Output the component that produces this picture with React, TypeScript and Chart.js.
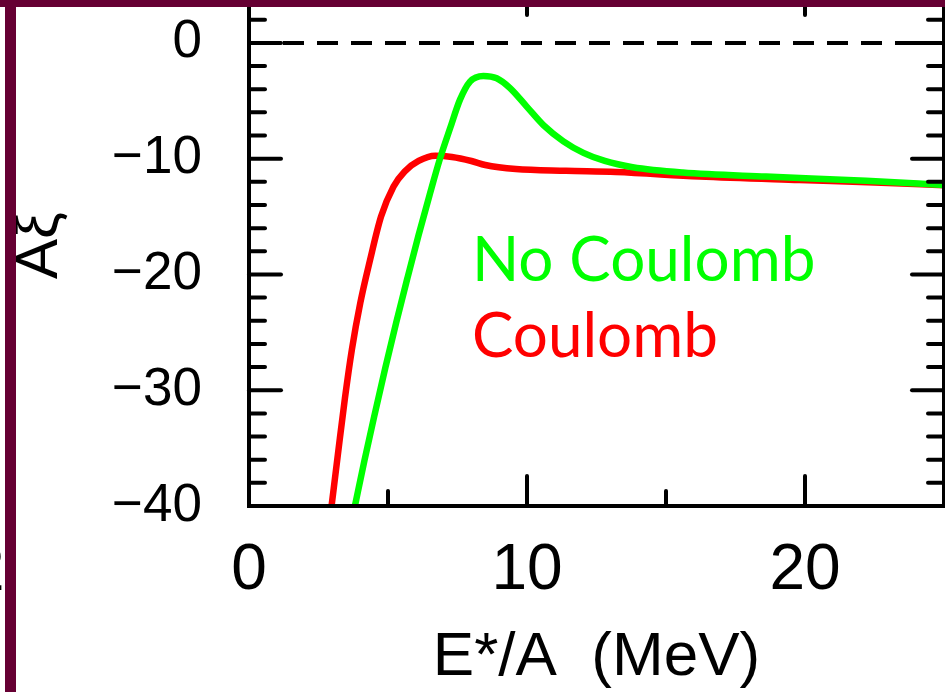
import React, { useEffect, useRef } from "react";
import { Chart, registerables } from "chart.js";

Chart.register(...registerables);

// ---- data ----
const NO_COULOMB_X = [3.81, 4.15, 4.5, 4.9, 5.3, 5.7, 6.1, 6.5, 6.87, 7.23, 7.59, 7.95, 8.43, 8.91, 9.39, 9.99, 10.59, 11.31, 12.03, 12.8, 13.8, 15.6, 18.6, 22.2, 25.0];
const NO_COULOMB_Y = [-40, -36.1, -32.3, -28.1, -24.1, -20.3, -16.6, -13.1, -10.0, -7.4, -4.9, -3.34, -2.85, -3.05, -3.9, -5.5, -7.1, -8.5, -9.5, -10.2, -10.74, -11.2, -11.55, -11.9, -12.27];

const COULOMB_X = [2.97, 3.2, 3.45, 3.7, 4.0, 4.35, 4.75, 5.2, 5.6, 6.1, 6.7, 7.3, 8.0, 8.5, 9.6, 11.4, 13.2, 16.2, 19.8, 22.5, 25.0];
const COULOMB_Y = [-40, -35.5, -30.7, -26.5, -22.5, -18.8, -15.0, -12.4, -11.1, -10.2, -9.75, -9.85, -10.2, -10.55, -10.9, -11.05, -11.15, -11.55, -11.85, -12.05, -12.3];

const ZERO_LINE_X = [0, 25];
const ZERO_LINE_Y = [0, 0];

const X_MAJOR_TICKS = [0, 10, 20];
const X_MINOR_TICKS = [5, 15];
const Y_MAJOR_TICKS = [-40, -30, -20, -10, 0];
const Y_MINOR_TICKS = [-38, -36, -34, -32, -28, -26, -24, -22, -18, -16, -14, -12, -8, -6, -4, -2, 2, 4];

const LEGEND_LABELS = ["No Coulomb", "Coulomb"];
const LEGEND_COLORS = ["#00ff00", "#ff0000"];
const LEGEND_X = 8.02;
const LEGEND_Y = [-20.56, -27.13];

const X_TITLE = "E*/A  (MeV)";
const Y_TITLE = "Aξ";

const toPts = (xs: number[], ys: number[]) => xs.map((x, i) => ({ x, y: ys[i] }));

const fmtTick = (v: number) => (v < 0 ? "\u2212" + Math.abs(v) : String(v));

const frameTicksPlugin = {
  id: "frameTicks",
  afterDatasetsDraw(chart: any) {
    const { ctx, chartArea } = chart;
    const xs = chart.scales.x;
    const ys = chart.scales.y;
    const { left, right, top, bottom } = chartArea;
    ctx.save();
    ctx.strokeStyle = "#000";
    ctx.lineWidth = 4;
    ctx.lineCap = "round";
    ctx.strokeRect(left, top, right - left, bottom - top);
    const line = (x1: number, y1: number, x2: number, y2: number) => {
      ctx.beginPath();
      ctx.moveTo(x1, y1);
      ctx.lineTo(x2, y2);
      ctx.stroke();
    };
    const xt = (vals: number[], len: number) =>
      vals.forEach((v) => {
        const p = xs.getPixelForValue(v);
        line(p, bottom, p, bottom - len);
        line(p, top, p, top + len);
      });
    const yt = (vals: number[], len: number) =>
      vals.forEach((v) => {
        const p = ys.getPixelForValue(v);
        line(left, p, left + len, p);
        line(right, p, right - len, p);
      });
    xt(X_MAJOR_TICKS, 30);
    xt(X_MINOR_TICKS, 15);
    yt(Y_MAJOR_TICKS, 32);
    yt(Y_MINOR_TICKS, 16);
    ctx.restore();
  },
};

const legendTextPlugin = {
  id: "legendText",
  afterDraw(chart: any) {
    const { ctx } = chart;
    const xs = chart.scales.x;
    const ys = chart.scales.y;
    ctx.save();
    ctx.font = "62px Lato, 'DejaVu Sans', sans-serif";
    ctx.textAlign = "left";
    ctx.textBaseline = "alphabetic";
    LEGEND_LABELS.forEach((t, i) => {
      ctx.fillStyle = LEGEND_COLORS[i];
      ctx.fillText(t, xs.getPixelForValue(LEGEND_X), ys.getPixelForValue(LEGEND_Y[i]));
    });
    ctx.restore();
  },
};

export default function App() {
  const ref = useRef<HTMLCanvasElement | null>(null);

  useEffect(() => {
    if (!ref.current) return;
    const chart = new Chart(ref.current, {
      type: "line",
      data: {
        datasets: [
          {
            label: "No Coulomb",
            data: toPts(NO_COULOMB_X, NO_COULOMB_Y),
            borderColor: "#00ff00",
            borderWidth: 6.5,
            pointRadius: 0,
            cubicInterpolationMode: "monotone",
            borderCapStyle: "round",
            borderJoinStyle: "round",
          },
          {
            label: "Coulomb",
            data: toPts(COULOMB_X, COULOMB_Y),
            borderColor: "#ff0000",
            borderWidth: 6.5,
            pointRadius: 0,
            cubicInterpolationMode: "monotone",
            borderCapStyle: "round",
            borderJoinStyle: "round",
          },
          {
            label: "zero",
            data: toPts(ZERO_LINE_X, ZERO_LINE_Y),
            borderColor: "#000",
            borderWidth: 4,
            borderDash: [21, 13],
            pointRadius: 0,
            tension: 0,
          },
        ],
      },
      options: {
        animation: false,
        responsive: false,
        devicePixelRatio: 1,
        layout: { padding: { top: 15, right: 1, left: 0, bottom: 0 } },
        plugins: { legend: { display: false }, tooltip: { enabled: false } },
        scales: {
          x: {
            type: "linear",
            min: 0,
            max: 25,
            afterFit: (s: any) => {
              s.height = 186;
              s.paddingLeft = 0;
              s.paddingRight = 0;
              s.paddingTop = 0;
              s.paddingBottom = 0;
            },
            afterBuildTicks: (s: any) => {
              s.ticks = X_MAJOR_TICKS.map((v) => ({ value: v }));
            },
            grid: { display: false, drawTicks: false },
            border: { display: false },
            ticks: {
              color: "#000",
              padding: 33,
              maxRotation: 0,
              font: { family: "'Liberation Sans', Arial, sans-serif", size: 64, lineHeight: 1 },
              callback: (v: any) => fmtTick(Number(v)),
            },
            title: {
              display: true,
              text: X_TITLE,
              color: "#000",
              padding: { top: 0, bottom: 3 },
              font: { family: "'Liberation Sans', Arial, sans-serif", size: 62, lineHeight: 1 },
            },
          },
          y: {
            type: "linear",
            min: -40,
            max: 5,
            afterFit: (s: any) => {
              s.width = 249;
              s.paddingLeft = 0;
              s.paddingRight = 0;
              s.paddingTop = 0;
              s.paddingBottom = 0;
            },
            afterBuildTicks: (s: any) => {
              s.ticks = Y_MAJOR_TICKS.map((v) => ({ value: v }));
            },
            grid: { display: false, drawTicks: false },
            border: { display: false },
            ticks: {
              color: "#000",
              padding: 47,
              font: { family: "'Liberation Sans', Arial, sans-serif", size: 53, lineHeight: 1 },
              callback: (v: any) => fmtTick(Number(v)),
            },
            title: {
              display: true,
              text: Y_TITLE,
              color: "#000",
              padding: { top: 10, bottom: 0 },
              font: { family: "'Liberation Sans', Arial, sans-serif", size: 60, lineHeight: 1 },
            },
          },
        },
      },
      plugins: [frameTicksPlugin, legendTextPlugin],
    } as any);
    return () => chart.destroy();
  }, []);

  return (
    <div
      style={{
        position: "absolute",
        left: 0,
        top: 0,
        width: 945,
        height: 692,
        overflow: "hidden",
        background: "#fff",
      }}
    >
      <canvas
        ref={ref}
        width={945}
        height={722}
        style={{ position: "absolute", left: 0, top: -30, width: 945, height: 722 }}
      />
      <div
        style={{
          position: "absolute",
          left: -31,
          top: 536,
          font: "64px 'Liberation Sans', Arial, sans-serif",
          lineHeight: "64px",
          color: "#000",
        }}
      >
        2
      </div>
      <div style={{ position: "absolute", left: 0, top: 0, width: 945, height: 7, background: "#660033" }} />
      <div style={{ position: "absolute", left: 5, top: 0, width: 11, height: 692, background: "#660033" }} />
    </div>
  );
}
